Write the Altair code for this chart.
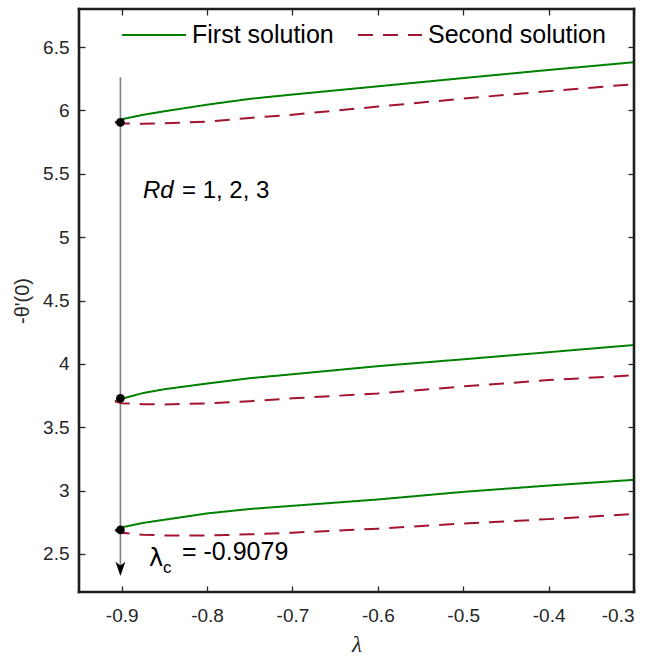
import altair as alt
import pandas as pd

# ---- data ----
lam_grid = [-0.9079, -0.9, -0.875, -0.85, -0.8, -0.75, -0.7, -0.6, -0.5, -0.4, -0.3]

first_top = [5.905, 5.93, 5.965, 5.993, 6.045, 6.091, 6.125, 6.19, 6.255, 6.319, 6.38]
second_top = [5.905, 5.897, 5.894, 5.898, 5.912, 5.94, 5.966, 6.03, 6.093, 6.152, 6.207]

first_mid = [3.705, 3.725, 3.77, 3.80, 3.845, 3.887, 3.918, 3.982, 4.036, 4.092, 4.149]
second_mid = [3.705, 3.69, 3.682, 3.68, 3.688, 3.706, 3.728, 3.767, 3.822, 3.872, 3.91]

first_bot = [2.686, 2.71, 2.745, 2.77, 2.82, 2.855, 2.88, 2.93, 2.99, 3.04, 3.085]
second_bot = [2.686, 2.667, 2.652, 2.646, 2.646, 2.655, 2.668, 2.70, 2.74, 2.775, 2.815]

dot_lam = [-0.9015, -0.9015, -0.9015]
dot_val = [5.905, 3.728, 2.69]

arrow_lam = -0.9015
arrow_top = 6.262
arrow_bottom = 2.40
arrow_tip = 2.383

x_ticks = [-0.9, -0.8, -0.7, -0.6, -0.5, -0.4, -0.3]
y_ticks = [2.5, 3, 3.5, 4, 4.5, 5, 5.5, 6, 6.5]
x_range = [-0.95, -0.3]
y_range = [2.2, 6.8]

solutions = ["First solution", "Second solution"]
GREEN = "#008000"
RED = "#A2142F"
FONT = "Liberation Sans"
AX = "#262626"
W, H = 555, 583

rows = []
for cid, (ys, sol) in enumerate([
    (first_top, solutions[0]), (second_top, solutions[1]),
    (first_mid, solutions[0]), (second_mid, solutions[1]),
    (first_bot, solutions[0]), (second_bot, solutions[1]),
]):
    for xv, yv in zip(lam_grid, ys):
        rows.append({"lam": xv, "val": yv, "solution": sol, "curve": cid})
curves_df = pd.DataFrame(rows)

xscale = alt.Scale(domain=x_range, nice=False, zero=False)
yscale = alt.Scale(domain=y_range, nice=False, zero=False)

x_axis = alt.Axis(
    orient="bottom", values=x_ticks, domain=False, offset=-6, tickSize=6,
    tickColor=AX, tickWidth=1.3, grid=False, labelFont=FONT, labelFontSize=19,
    labelColor=AX, labelPadding=14,
    labelExpr="replace(format(datum.value, '.1f'), '\u2212', '-')",
    title="λ", titleFont="Liberation Serif", titleFontStyle="italic",
    titleFontWeight="normal", titleFontSize=23, titleColor=AX,
    titleBaseline="middle", titleY=58,
)
y_axis = alt.Axis(
    orient="left", values=y_ticks, domain=False, offset=-6, tickSize=6,
    tickColor=AX, tickWidth=1.3, grid=False, labelFont=FONT, labelFontSize=19,
    labelColor=AX, labelPadding=10, labelExpr="format(datum.value, '~g')",
    title="-θ'(0)", titleFont=FONT, titleFontWeight="normal", titleFontSize=20,
    titleColor=AX, titleX=-53,
)
x_top = alt.Axis(orient="top", values=x_ticks, domain=False, offset=-6, tickSize=6,
                 tickColor=AX, tickWidth=1.3, grid=False, labels=False, title=None)
y_right = alt.Axis(orient="right", values=y_ticks, domain=False, offset=-6, tickSize=6,
                   tickColor=AX, tickWidth=1.3, grid=False, labels=False, title=None)

arrow_df = pd.DataFrame({"lam": [arrow_lam], "top": [arrow_top], "bottom": [arrow_bottom],
                         "tip": [arrow_tip]})

rule = alt.Chart(arrow_df).mark_rule(color="#808080", strokeWidth=1.6).encode(
    x=alt.X("lam:Q", scale=xscale, axis=x_axis),
    y=alt.Y("top:Q", scale=yscale, axis=y_axis),
    y2="bottom:Q",
)

lines = alt.Chart(curves_df).mark_line(strokeWidth=2, clip=True).encode(
    x=alt.X("lam:Q", scale=xscale, axis=None),
    y=alt.Y("val:Q", scale=yscale, axis=None),
    detail="curve:N",
    color=alt.Color("solution:N", scale=alt.Scale(domain=solutions, range=[GREEN, RED]),
                    legend=alt.Legend(
                        title=None, orient="none", legendX=42, legendY=-7,
                        direction="horizontal", symbolType="stroke", symbolSize=4096,
                        symbolStrokeWidth=2, labelFont=FONT, labelFontSize=25,
                        labelColor="black", labelOffset=5, columnPadding=20,
                        labelLimit=400, padding=0)),
    strokeDash=alt.StrokeDash("solution:N",
                              scale=alt.Scale(domain=solutions, range=[[1, 0], [15, 10]]),
                              legend=None),
    order="lam:Q",
)

dots_df = pd.DataFrame({"lam": dot_lam, "val": dot_val})
dots = alt.Chart(dots_df).mark_circle(size=75, color="black", opacity=1).encode(
    x=alt.X("lam:Q", scale=xscale, axis=x_top),
    y=alt.Y("val:Q", scale=yscale, axis=y_right),
)

head = alt.Chart(arrow_df).mark_point(
    shape="M 0 1 L -0.7 -1 L 0 -0.45 L 0.7 -1 Z", size=200, filled=True,
    color="black", opacity=1, strokeWidth=0,
).encode(
    x=alt.X("lam:Q", scale=xscale, axis=None),
    y=alt.Y("tip:Q", scale=yscale, axis=None),
)

# box frame drawn as four rules along the scale limits
frame_df = pd.DataFrame({
    "x1": [x_range[0], x_range[1], x_range[0], x_range[0]],
    "x2": [x_range[0], x_range[1], x_range[1], x_range[1]],
    "y1": [y_range[0], y_range[0], y_range[0], y_range[1]],
    "y2": [y_range[1], y_range[1], y_range[0], y_range[1]],
})
frame = alt.Chart(frame_df).mark_rule(color="#1e1e1e", strokeWidth=2.6,
                                      strokeCap="square", opacity=1).encode(
    x=alt.X("x1:Q", scale=xscale, axis=None), x2="x2:Q",
    y=alt.Y("y1:Q", scale=yscale, axis=None), y2="y2:Q",
)

def label(txt, x, y, size, style="normal", font=FONT):
    return alt.Chart(pd.DataFrame({"t": [txt]})).mark_text(
        align="left", baseline="alphabetic", font=font, fontSize=size,
        fontStyle=style, color="black",
    ).encode(text="t:N", x=alt.value(x), y=alt.value(y))

rd1 = label("Rd", 64, 189, 24, "italic")
rd2 = label("= 1, 2, 3", 103, 189, 24)
lc1 = label("λ", 70, 557, 24, "normal", "DejaVu Sans")
lc2 = label("c", 84, 564, 17)
lc3 = label("= -0.9079", 103, 551, 25)

chart = alt.layer(rule, lines, dots, head, frame, rd1, rd2, lc1, lc2, lc3).resolve_axis(
    x="independent", y="independent"
).properties(
    width=W, height=H,
    autosize=alt.AutoSizeParams(type="none"),
    padding={"left": 79, "top": 9, "right": 20, "bottom": 69},
).configure(background="white").configure_view(stroke=None)

chart.save("out.html", embed_options={"renderer": "svg", "actions": False})
